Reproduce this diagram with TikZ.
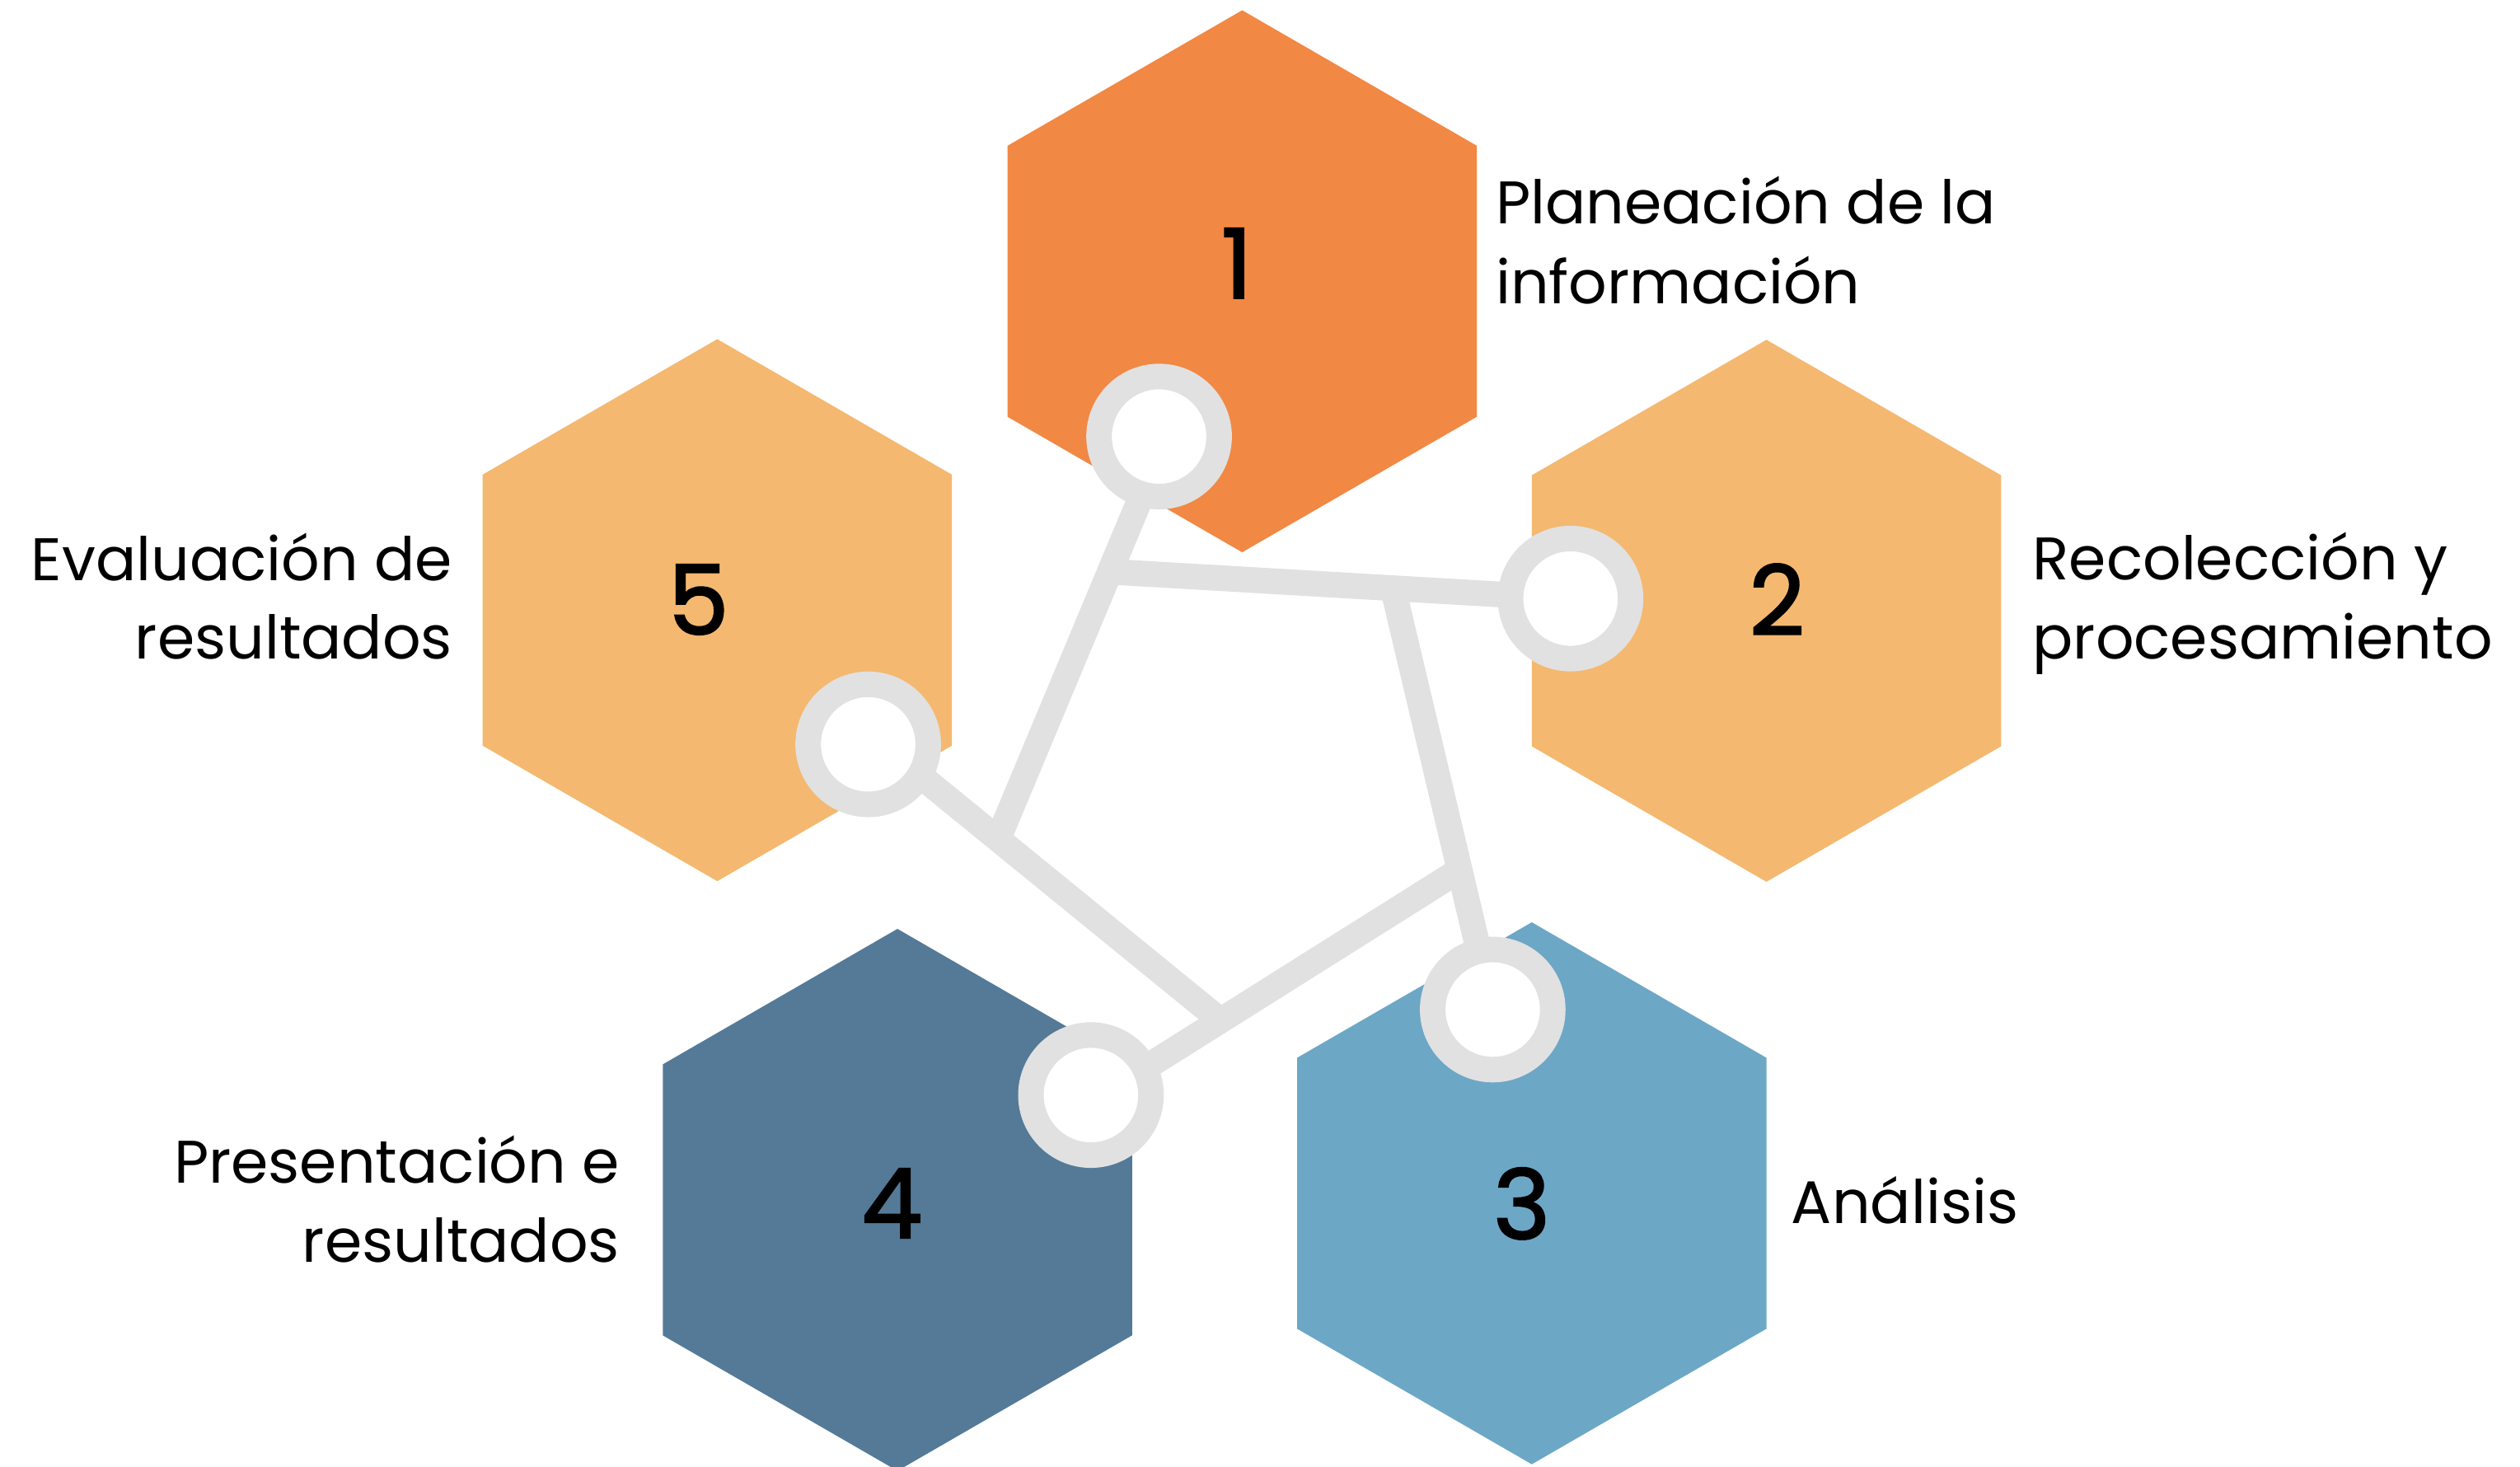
\documentclass[tikz,border=0pt]{standalone}
\usepackage{fontspec}
\setmainfont{Poppins}
\newfontfamily\numfont[FakeBold=2]{Poppins}
\usetikzlibrary{shapes.geometric,calc}
\definecolor{hexorange}{HTML}{F18844}
\definecolor{hexpeach}{HTML}{F4B870}
\definecolor{hexnavy}{HTML}{547A98}
\definecolor{hexsky}{HTML}{6DA7C6}
\definecolor{linkgray}{HTML}{E1E1E1}
\begin{document}
\begin{tikzpicture}[x=1pt,y=-1pt,
  hexa/.style={regular polygon, regular polygon sides=6, shape border rotate=30,
    minimum size=337.2pt, inner sep=0pt, draw=none},
  num/.style={font=\numfont\fontsize{60}{60}\selectfont, inner sep=0pt, anchor=center},
  lbl/.style={font=\fontsize{37.4}{46}\selectfont, inner sep=0pt},
  link/.style={draw=linkgray, line width=16pt, line cap=butt},
  ring/.style={circle, draw=linkgray, line width=15.9pt, fill=white,
    minimum size=74.7pt, inner sep=0pt}]
\useasboundingbox (0,0) rectangle (1568,912.2);

% hexagons
\node[hexa, fill=hexorange] (h1) at (772.9,175.0) {};
\node[hexa, fill=hexpeach]  (h2) at (1099.1,380.0) {};
\node[hexa, fill=hexsky]    (h3) at (953.1,742.4) {};
\node[hexa, fill=hexnavy]   (h4) at (558.4,746.5) {};
\node[hexa, fill=hexpeach]  (h5) at (446.3,379.6) {};

% numbers
\node[num] (n1) at (769.6,163.8) {1};
\node[num] (n2) at (1105.7,372.9) {2};
\node[num] (n3) at (946.9,748.8) {3};
\node[num] (n4) at (554.9,748.6) {4};
\node[num] (n5) at (434.6,373.0) {5};

% labels
\node[lbl, anchor=base west] (t1a) at (930.5,139.3) {Planeación de la};
\node[lbl, anchor=base west] (t1b) at (930.5,188.9) {información};
\node[lbl, anchor=base west] (t2a) at (1264.5,360.9) {Recolección y};
\node[lbl, anchor=base west] (t2b) at (1264.5,409.8) {procesamiento};
\node[lbl, anchor=base west] (t3)  at (1114.5,761.0) {Análisis};
\node[lbl, anchor=base east] (t4a) at (385.8,736.2) {Presentación e};
\node[lbl, anchor=base east] (t4b) at (385.8,785.4) {resultados};
\node[lbl, anchor=base east] (t5a) at (281.7,361.0) {Evaluación de};
\node[lbl, anchor=base east] (t5b) at (281.7,410.0) {resultados};

% ring positions and line anchors
\coordinate (c1) at (721.2,271.6);
\coordinate (c2) at (977.2,372.4);
\coordinate (c3) at (928.8,628.1);
\coordinate (c4) at (678.8,681.3);
\coordinate (c5) at (540.2,463.1);
\coordinate (a0) at (725.7,271.6);
\coordinate (d1) at (678.8,685.7);
\coordinate (e0) at (540.2,456.2);
\coordinate (j5) at (621.0,522.1);
\coordinate (j1) at ($(a0)!0.3356!(j5)$);
\coordinate (j2) at ($(j1)!0.6145!(c2)$);
\coordinate (j3) at ($(j2)!0.669!(c3)$);
\coordinate (j4) at ($(j3)!0.6484!(d1)$);

% connectors
\draw[link] (a0) -- (j5);
\draw[link] (j1) -- (c2);
\draw[link] (j2) -- (c3);
\draw[link] (j3) -- (d1);
\draw[link] (e0) -- (j4);

% rings
\node[ring] (r1) at (c1) {};
\node[ring] (r2) at (c2) {};
\node[ring] (r3) at (c3) {};
\node[ring] (r4) at (c4) {};
\node[ring] (r5) at (c5) {};
\end{tikzpicture}
\end{document}
